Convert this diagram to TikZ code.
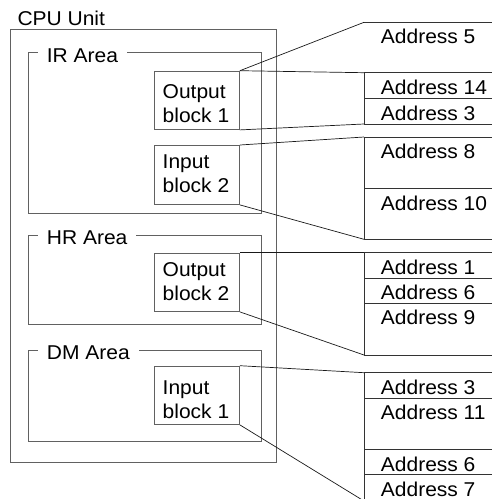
\documentclass[tikz,border=0pt]{standalone}
\usepackage{fontspec}
\setmainfont{Liberation Sans}[FakeStretch=1.05]
\usetikzlibrary{positioning}

\begin{document}
\begin{tikzpicture}[x=1pt,y=-1pt,font=\fontsize{20}{24}\selectfont,
  frame/.style={draw=black!62,line width=0.9pt},
  blockbox/.style={frame,anchor=north west,minimum width=85pt,minimum height=58.3pt,inner sep=0pt},
  blocktext/.style={anchor=north west,align=left,inner sep=0pt},
  areatag/.style={fill=white,anchor=base west,inner xsep=9pt,inner ysep=0pt},
  addr/.style={anchor=base west,inner sep=0pt},
  memline/.style={draw=black!80,line width=0.8pt},
  link/.style={draw=black!90,line width=0.7pt}]
  \useasboundingbox (0,0) rectangle (492,499);
  \clip (0,0) rectangle (492,499);
  % CPU unit and its three areas
  \draw[frame] (10.7,29) rectangle (276.7,462);
  \node[addr] (cpu) at (17.3,25) {CPU Unit};
  \draw[frame] (28.7,52.7) rectangle (261.7,213);
  \node[areatag] (ir) at (37.7,62) {IR Area};
  \draw[frame] (28.7,235.7) rectangle (261.7,324);
  \node[areatag] (hr) at (37.7,244.5) {HR Area};
  \draw[frame] (28.7,350.3) rectangle (261.7,441.7);
  \node[areatag] (dm) at (37.7,359.3) {DM Area};
  % blocks
  \node[blockbox] (ob1) at (154,70.7) {};
  \node[blockbox,minimum height=59pt] (ib2) at (154,145) {};
  \node[blockbox] (ob2) at (154,252.7) {};
  \node[blockbox] (ib1) at (154,365.7) {};
  \node[blocktext] (ob1t) at (162.5,84.5) {Output\\block 1};
  \node[blocktext] (ib2t) at (162.5,154.5) {Input\\block 2};
  \node[blocktext] (ob2t) at (162.5,262.8) {Output\\block 2};
  \node[blocktext] (ib1t) at (162.5,380.5) {Input\\block 1};
  % memory column
  \coordinate (m5) at (364,22.3);
  \coordinate (g1t) at (364,72.7);  \coordinate (g1b) at (364,124);
  \coordinate (g2t) at (364,137);   \coordinate (g2b) at (364,239.3);
  \coordinate (g3t) at (364,252.7); \coordinate (g3b) at (364,355);
  \coordinate (g4t) at (364,372.7); \coordinate (g4b) at (364,501);
  \foreach \y in {22.3,72.7,98.7,124,137,188.7,239.3,252.7,278.3,303.3,355,372.7,398.3,449.7,474.7}
    \draw[memline] (364,\y) -- (492,\y);
  \foreach \g in {1,...,4}
    \draw[memline] (g\g t) -- (g\g b);
  \foreach \y/\t [count=\i] in {22.3/5,72.7/14,98.7/3,137/8,188.7/10,252.7/1,278.3/6,303.3/9,372.7/3,398.3/11,449.7/6,474.7/7}
    \node[addr] (addr\i) at (380.7,\y+21.5) {Address \t};
  % block to memory
  \foreach \a/\b in {ob1.north east/m5,ob1.north east/g1t,ob1.south east/g1b,
                     ib2.north east/g2t,ib2.south east/g2b,
                     ob2.north east/g3t,ob2.south east/g3b,
                     ib1.north east/g4t,ib1.south east/g4b}
    \draw[link] (\a) -- (\b);
\end{tikzpicture}
\end{document}
